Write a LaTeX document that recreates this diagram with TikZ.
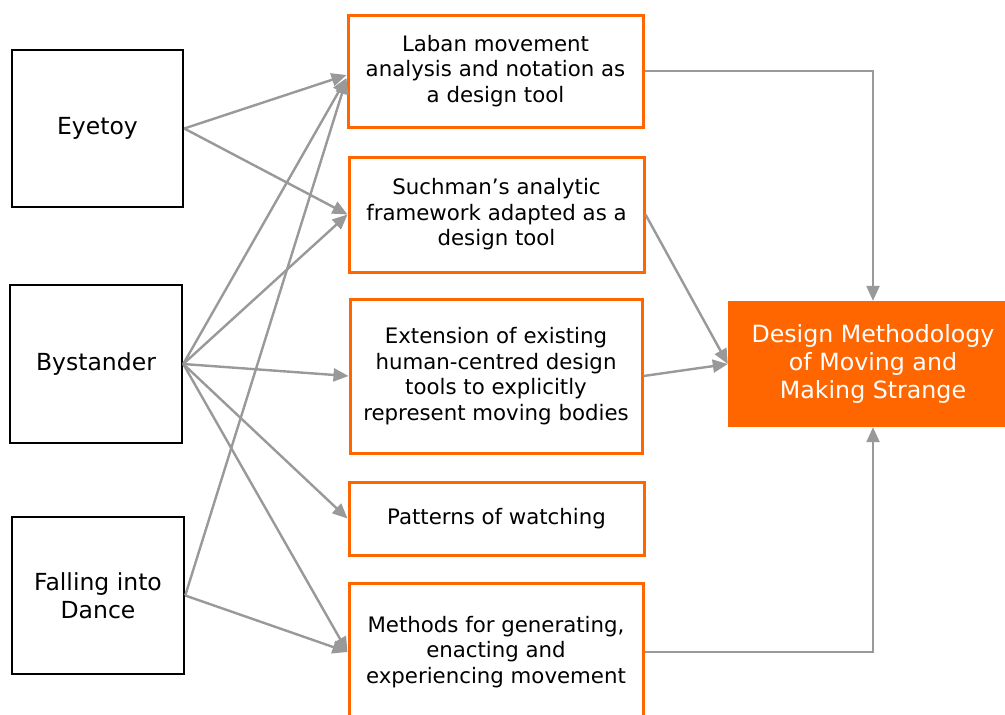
\documentclass[tikz,border=0pt]{standalone}
\usepackage{fontspec}
\setmainfont{DejaVu Sans}
\usetikzlibrary{arrows.meta}
\definecolor{org}{HTML}{FF6600}
\definecolor{gry}{HTML}{999999}
\begin{document}
\begin{tikzpicture}[x=1pt,y=-1pt,
  src/.style={draw=black, line width=2.5pt, minimum width=171pt, minimum height=157pt, inner sep=0pt, align=center, font=\fontsize{23.5}{28}\selectfont},
  mid/.style={draw=org, line width=3pt, inner sep=0pt, align=center, font=\fontsize{21.3}{25.5}\selectfont},
  conn/.style={draw=gry, line width=2.4pt, -{Triangle[length=15pt,width=13pt]}},
  goal/.style={fill=org, inner sep=0pt, text=white, align=center, font=\fontsize{23.7}{28}\selectfont}
]
\useasboundingbox (0,0) rectangle (1005,715);
\fill[white] (0,0) rectangle (1005,715);
\clip (0,0) rectangle (1005,715);

\node[src] (eye) at (97.5,128.5) {Eyetoy};
\node[src, minimum width=172pt, minimum height=158pt] (bys) at (96,364) {Bystander};
\node[src, minimum width=172pt] (fal) at (98,595.5) {Falling into\\Dance};

\node[mid, minimum width=295pt, minimum height=112pt] (lab) at (495.5,71) {Laban movement\\analysis and notation as\\a design tool};
\node[mid, minimum width=295pt, minimum height=115pt] (suc) at (496.5,214.5) {Suchman’s analytic\\framework adapted as a\\design tool};
\node[mid, minimum width=292pt, minimum height=154pt] (ext) at (496,376) {Extension of existing\\human-centred design\\tools to explicitly\\represent moving bodies};
\node[mid, minimum width=295pt, minimum height=73pt] (pat) at (496.5,518.5) {Patterns of watching};
\node[mid, minimum width=294pt, minimum height=138pt] (met) at (496,652) {Methods for generating,\\enacting and\\experiencing movement};

\node[goal, minimum width=290pt, minimum height=126pt] (dm) at (873,364) {Design Methodology\\of Moving and\\Making Strange};

\draw[conn] (eye.east) -- ([yshift=-4pt]lab.west);
\draw[conn] (eye.east) -- (suc.west);
\draw[conn] (bys.east) -- ([yshift=-7pt]lab.west);
\draw[conn] (bys.east) -- (suc.west);
\draw[conn] (bys.east) -- (ext.west);
\draw[conn] (bys.east) -- (pat.west);
\draw[conn] (bys.east) -- (met.west);
\draw[conn] (fal.east) -- ([yshift=-8pt]lab.west);
\draw[conn] (fal.east) -- (met.west);

\draw[conn] (lab.east) -| (dm.north);
\draw[conn] (suc.east) -- (dm.west);
\draw[conn] (ext.east) -- (dm.west);
\draw[conn] (met.east) -| (dm.south);
\end{tikzpicture}
\end{document}
